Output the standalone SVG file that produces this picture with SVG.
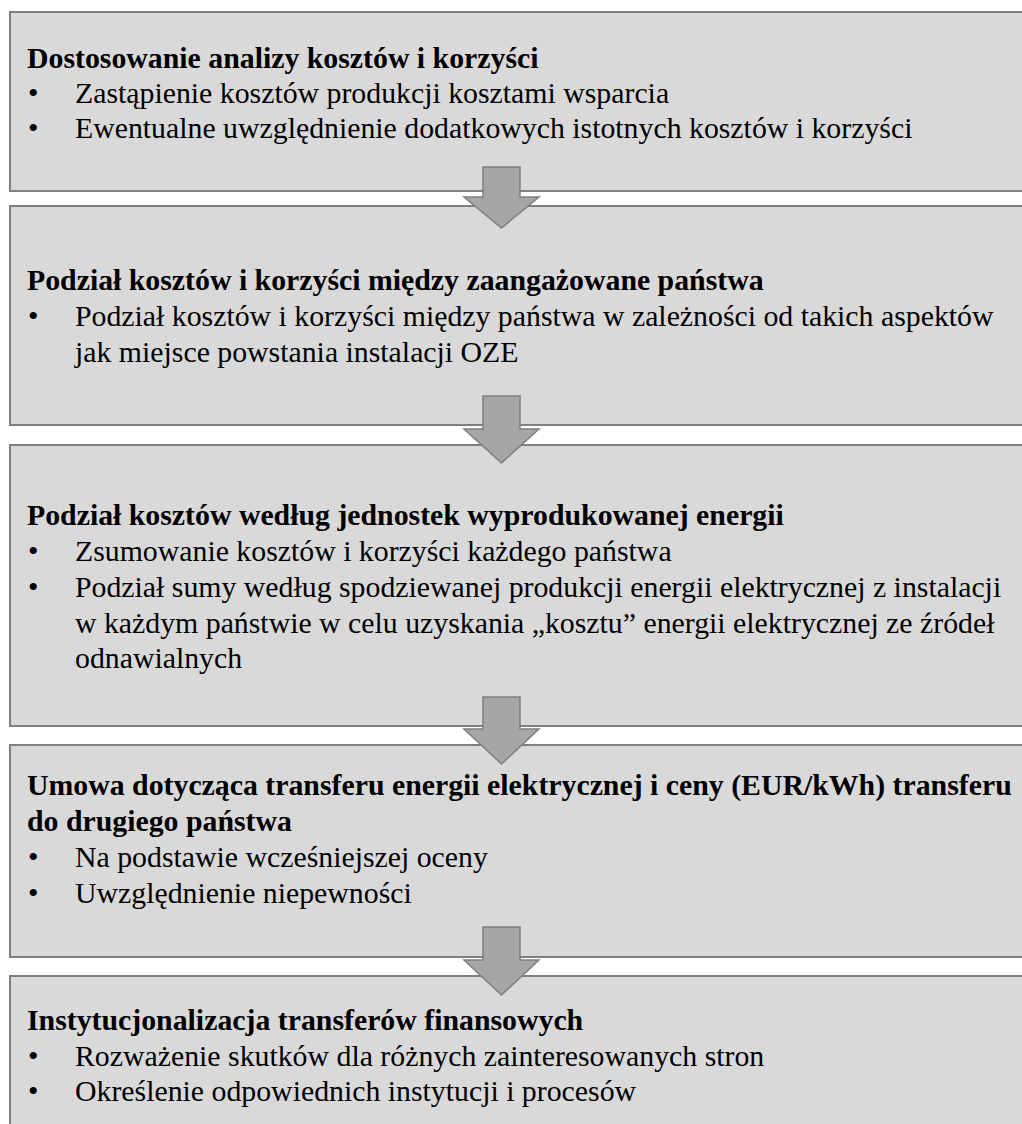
<svg xmlns="http://www.w3.org/2000/svg" width="1022" height="1124" viewBox="0 0 1022 1124">
<style>
.box{fill:#d9d9d9;stroke:#7f7f7f;stroke-width:2}
.arr{fill:#a6a6a6;stroke:#7f7f7f;stroke-width:1.5;stroke-linejoin:miter}
text{font-family:"Liberation Serif","Times New Roman",serif;font-size:29.8px;fill:#000}
.t{font-weight:bold}
</style>
<rect width="1022" height="1124" fill="#fff"/>
<g id="node1">
<rect class="box" x="10" y="12" width="1030" height="179"/>
<text class="t" x="27" y="68">Dostosowanie analizy kosztów i korzyści</text>
<text x="28" y="103">•</text><text x="75" y="103">Zastąpienie kosztów produkcji kosztami wsparcia</text>
<text x="28" y="138">•</text><text x="75" y="138">Ewentualne uwzględnienie dodatkowych istotnych kosztów i korzyści</text>
</g>
<g id="node2">
<rect class="box" x="10" y="206" width="1030" height="219"/>
<text class="t" x="27" y="290">Podział kosztów i korzyści między zaangażowane państwa</text>
<text x="28" y="326">•</text><text x="75" y="326">Podział kosztów i korzyści między państwa w zależności od takich aspektów</text>
<text x="75" y="362">jak miejsce powstania instalacji OZE</text>
</g>
<g id="node3">
<rect class="box" x="10" y="445" width="1030" height="281"/>
<text class="t" x="27" y="525">Podział kosztów według jednostek wyprodukowanej energii</text>
<text x="28" y="561">•</text><text x="75" y="561">Zsumowanie kosztów i korzyści każdego państwa</text>
<text x="28" y="597">•</text><text x="75" y="597">Podział sumy według spodziewanej produkcji energii elektrycznej z instalacji</text>
<text x="75" y="633">w każdym państwie w celu uzyskania „kosztu” energii elektrycznej ze źródeł</text>
<text x="75" y="668">odnawialnych</text>
</g>
<g id="node4">
<rect class="box" x="10" y="745" width="1030" height="212"/>
<text class="t" x="27" y="795">Umowa dotycząca transferu energii elektrycznej i ceny (EUR/kWh) transferu</text>
<text class="t" x="27" y="831">do drugiego państwa</text>
<text x="28" y="867">•</text><text x="75" y="867">Na podstawie wcześniejszej oceny</text>
<text x="28" y="903">•</text><text x="75" y="903">Uwzględnienie niepewności</text>
</g>
<g id="node5">
<rect class="box" x="10" y="976" width="1030" height="170"/>
<text class="t" x="27" y="1030">Instytucjonalizacja transferów finansowych</text>
<text x="28" y="1066">•</text><text x="75" y="1066">Rozważenie skutków dla różnych zainteresowanych stron</text>
<text x="28" y="1101">•</text><text x="75" y="1101">Określenie odpowiednich instytucji i procesów</text>
</g>
<g id="connectors">
<path class="arr" d="M483,167 H520 V197 H539 L501.5,228 L464,197 H483 Z"/>
<path class="arr" d="M483,396 H520 V429 H539 L501.5,463 L464,429 H483 Z"/>
<path class="arr" d="M483,697 H520 V729 H539 L501.5,764 L464,729 H483 Z"/>
<path class="arr" d="M483,927 H520 V960 H539 L501.5,995 L464,960 H483 Z"/>
</g>
</svg>
